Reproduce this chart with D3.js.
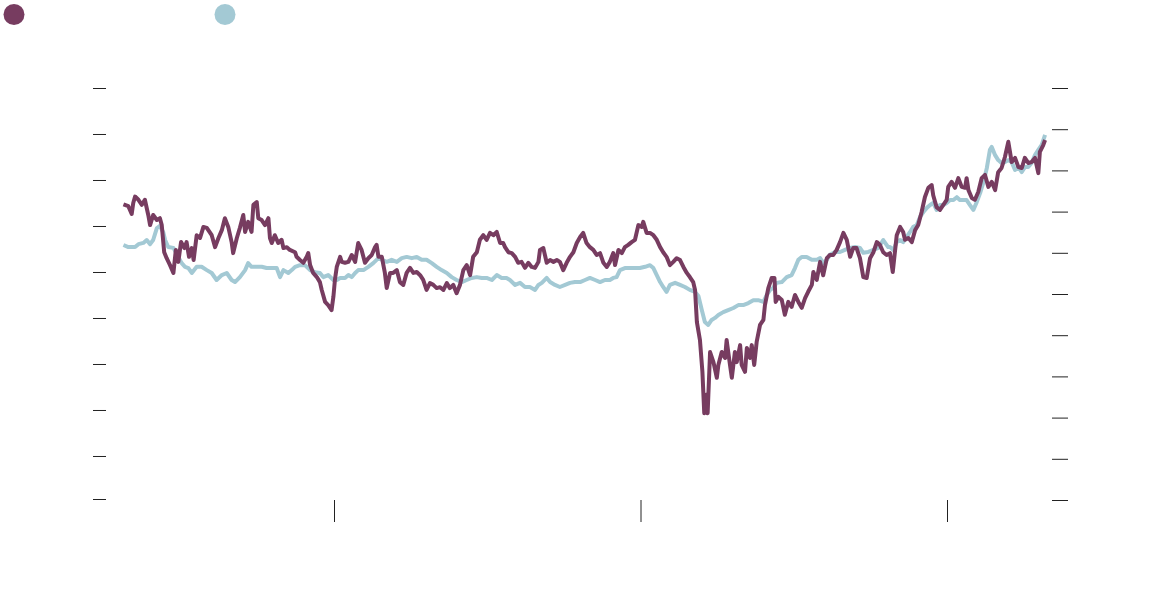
<!DOCTYPE html>
<html>
<head>
<meta charset="utf-8">
<script src="https://cdn.jsdelivr.net/npm/d3@7"></script>
<style>
	body { margin: 0; background: #fff; }
	svg { display: block; }
</style>
</head>
<body>
<svg id="chart" width="1160" height="594"></svg>
<script>
// [decimal year, value on left axis]
const seriesA = [
	[2018.313, 54.7], [2018.329, 54.3], [2018.340, 52.6], [2018.345, 55.0], [2018.351, 56.4],
	[2018.362, 55.7], [2018.373, 54.6], [2018.383, 55.7], [2018.394, 52.4], [2018.400, 50.2],
	[2018.410, 52.4], [2018.422, 51.3], [2018.432, 51.7], [2018.438, 50.2], [2018.446, 44.3],
	[2018.454, 43.0], [2018.465, 41.5], [2018.476, 39.8], [2018.484, 44.8], [2018.492, 42.2],
	[2018.501, 46.5], [2018.512, 45.2], [2018.519, 46.5], [2018.527, 43.3], [2018.536, 45.2],
	[2018.542, 42.6], [2018.552, 48.0], [2018.563, 47.4], [2018.574, 49.8], [2018.585, 49.6],
	[2018.601, 48.0], [2018.612, 45.4], [2018.623, 47.4], [2018.634, 49.1], [2018.644, 51.7],
	[2018.655, 49.8], [2018.666, 46.5], [2018.671, 44.1], [2018.683, 47.4], [2018.693, 49.6],
	[2018.704, 52.4], [2018.710, 48.7], [2018.720, 50.9], [2018.731, 48.7], [2018.737, 54.6],
	[2018.748, 55.2], [2018.753, 51.7], [2018.764, 51.3], [2018.775, 50.2], [2018.786, 51.7],
	[2018.791, 47.4], [2018.797, 46.3], [2018.807, 48.0], [2018.818, 46.3], [2018.829, 47.0],
	[2018.835, 45.2], [2018.846, 45.4], [2018.856, 44.8], [2018.873, 44.3], [2018.878, 43.3],
	[2018.889, 42.6], [2018.900, 42.0], [2018.911, 43.3], [2018.916, 44.1], [2018.922, 41.5],
	[2018.932, 39.8], [2018.944, 38.9], [2018.954, 37.8], [2018.960, 36.1], [2018.971, 33.5],
	[2018.981, 32.8], [2018.992, 31.7], [2018.998, 34.6], [2019.003, 38.3], [2019.009, 41.1],
	[2019.020, 43.3], [2019.025, 42.2], [2019.036, 42.0], [2019.047, 42.2], [2019.058, 43.7],
	[2019.069, 42.2], [2019.079, 46.3], [2019.090, 44.8], [2019.101, 42.0], [2019.112, 43.0],
	[2019.123, 43.7], [2019.134, 45.4], [2019.139, 45.9], [2019.145, 43.3], [2019.156, 43.3],
	[2019.166, 39.8], [2019.172, 36.5], [2019.183, 39.8], [2019.193, 39.8], [2019.205, 40.4],
	[2019.215, 37.8], [2019.226, 37.2], [2019.237, 39.8], [2019.248, 40.9], [2019.259, 39.8],
	[2019.270, 40.0], [2019.281, 39.3], [2019.291, 38.3], [2019.302, 36.1], [2019.313, 37.6],
	[2019.324, 37.2], [2019.335, 36.5], [2019.346, 36.7], [2019.357, 36.1], [2019.368, 37.6],
	[2019.378, 36.5], [2019.389, 37.2], [2019.400, 35.4], [2019.411, 37.2], [2019.422, 40.4],
	[2019.433, 41.5], [2019.444, 39.3], [2019.454, 43.3], [2019.466, 44.3], [2019.476, 47.0],
	[2019.487, 48.0], [2019.498, 47.0], [2019.509, 48.5], [2019.520, 48.0], [2019.531, 48.7],
	[2019.542, 46.3], [2019.552, 46.3], [2019.558, 45.4], [2019.569, 44.3], [2019.580, 44.1],
	[2019.591, 43.3], [2019.601, 42.0], [2019.612, 42.2], [2019.623, 40.9], [2019.634, 42.0],
	[2019.645, 41.1], [2019.656, 40.9], [2019.667, 42.2], [2019.672, 44.8], [2019.683, 45.2],
	[2019.694, 42.0], [2019.705, 42.6], [2019.716, 42.2], [2019.727, 42.6], [2019.737, 42.2],
	[2019.748, 40.4], [2019.759, 42.0], [2019.770, 43.3], [2019.781, 44.3], [2019.792, 46.3],
	[2019.803, 47.6], [2019.813, 48.5], [2019.824, 46.3], [2019.835, 45.4], [2019.846, 44.8],
	[2019.857, 43.7], [2019.868, 44.1], [2019.879, 42.0], [2019.890, 41.1], [2019.900, 42.2],
	[2019.911, 44.1], [2019.917, 41.5], [2019.928, 44.8], [2019.939, 44.1], [2019.949, 45.4],
	[2019.960, 45.9], [2019.971, 46.5], [2019.982, 47.0], [2019.993, 50.2], [2020.004, 49.8],
	[2020.009, 50.9], [2020.020, 48.5], [2020.031, 48.5], [2020.042, 48.0], [2020.053, 47.0],
	[2020.064, 45.4], [2020.074, 44.3], [2020.085, 43.3], [2020.096, 41.5], [2020.107, 42.2],
	[2020.118, 43.0], [2020.129, 42.6], [2020.140, 41.1], [2020.151, 39.8], [2020.161, 38.9],
	[2020.172, 37.8], [2020.178, 36.1], [2020.184, 29.1], [2020.194, 25.2], [2020.202, 18.3],
	[2020.208, 9.3], [2020.214, 13.3], [2020.219, 9.3], [2020.227, 22.6], [2020.238, 20.4],
	[2020.249, 17.0], [2020.254, 19.8], [2020.265, 22.6], [2020.276, 21.3], [2020.281, 25.2],
	[2020.292, 19.8], [2020.298, 17.0], [2020.308, 22.6], [2020.314, 20.4], [2020.325, 24.1],
	[2020.330, 19.8], [2020.341, 18.3], [2020.347, 23.5], [2020.357, 21.3], [2020.363, 24.1],
	[2020.371, 19.8], [2020.379, 24.8], [2020.390, 28.5], [2020.401, 29.6], [2020.406, 32.8],
	[2020.417, 36.5], [2020.428, 38.7], [2020.437, 38.7], [2020.441, 33.5], [2020.450, 34.6],
	[2020.461, 33.9], [2020.471, 30.7], [2020.482, 33.5], [2020.493, 32.4], [2020.504, 35.0],
	[2020.515, 33.5], [2020.526, 32.2], [2020.537, 34.3], [2020.547, 35.7], [2020.559, 37.2],
	[2020.564, 40.0], [2020.575, 38.3], [2020.586, 42.2], [2020.596, 39.3], [2020.608, 43.0],
	[2020.618, 43.7], [2020.629, 43.7], [2020.640, 44.8], [2020.651, 46.5], [2020.662, 48.5],
	[2020.673, 47.0], [2020.684, 43.3], [2020.694, 45.2], [2020.705, 45.2], [2020.716, 43.0],
	[2020.727, 38.9], [2020.738, 38.7], [2020.749, 43.0], [2020.760, 44.3], [2020.771, 46.5],
	[2020.781, 45.9], [2020.792, 44.3], [2020.803, 43.7], [2020.814, 44.1], [2020.823, 40.0],
	[2020.836, 48.0], [2020.847, 49.8], [2020.857, 48.7], [2020.863, 47.0], [2020.874, 47.4],
	[2020.885, 46.5], [2020.896, 49.1], [2020.906, 50.2], [2020.917, 53.0], [2020.928, 56.3],
	[2020.939, 58.3], [2020.950, 58.9], [2020.955, 56.7], [2020.966, 54.1], [2020.977, 53.5],
	[2020.988, 54.6], [2020.999, 55.7], [2021.004, 58.5], [2021.015, 59.6], [2021.026, 58.3],
	[2021.037, 60.4], [2021.048, 58.5], [2021.059, 58.3], [2021.064, 60.4], [2021.070, 57.8],
	[2021.081, 56.1], [2021.091, 55.7], [2021.102, 57.4], [2021.113, 60.4], [2021.124, 61.1],
	[2021.135, 58.5], [2021.146, 59.6], [2021.157, 57.8], [2021.167, 61.7], [2021.178, 62.6],
	[2021.189, 65.0], [2021.200, 68.3], [2021.211, 63.9], [2021.222, 64.8], [2021.233, 62.8],
	[2021.244, 62.6], [2021.254, 64.8], [2021.265, 63.7], [2021.276, 63.9], [2021.287, 64.8],
	[2021.298, 61.5], [2021.303, 66.1], [2021.314, 67.6], [2021.320, 68.7]
];

// [decimal year, value on right axis]
const seriesB = [
	[2018.313, 61.9], [2018.329, 61.4], [2018.340, 61.4], [2018.351, 61.4], [2018.362, 62.1],
	[2018.378, 62.4], [2018.389, 63.1], [2018.400, 62.1], [2018.410, 63.1], [2018.422, 66.0],
	[2018.432, 66.5], [2018.443, 65.0], [2018.449, 63.1], [2018.459, 61.4], [2018.476, 61.2],
	[2018.492, 59.0], [2018.503, 57.5], [2018.514, 56.6], [2018.525, 56.3], [2018.536, 55.1],
	[2018.552, 56.6], [2018.568, 56.6], [2018.585, 55.8], [2018.601, 55.1], [2018.617, 53.4],
	[2018.634, 54.6], [2018.650, 55.1], [2018.666, 53.4], [2018.677, 52.9], [2018.693, 54.1],
	[2018.710, 55.8], [2018.720, 57.5], [2018.731, 56.6], [2018.748, 56.6], [2018.764, 56.6],
	[2018.780, 56.3], [2018.797, 56.3], [2018.813, 56.3], [2018.824, 54.1], [2018.835, 55.8],
	[2018.851, 55.1], [2018.862, 55.8], [2018.873, 56.6], [2018.889, 57.0], [2018.905, 57.0],
	[2018.922, 55.8], [2018.938, 55.3], [2018.954, 55.1], [2018.965, 54.1], [2018.981, 54.6],
	[2018.998, 53.4], [2019.009, 53.4], [2019.020, 53.9], [2019.036, 53.9], [2019.047, 54.6],
	[2019.058, 54.1], [2019.069, 55.1], [2019.079, 55.8], [2019.096, 55.8], [2019.112, 56.6],
	[2019.128, 57.5], [2019.145, 58.7], [2019.156, 58.3], [2019.172, 57.8], [2019.188, 58.3],
	[2019.205, 57.8], [2019.221, 58.7], [2019.237, 59.0], [2019.254, 58.7], [2019.270, 59.0],
	[2019.286, 58.3], [2019.302, 58.3], [2019.319, 57.5], [2019.335, 56.6], [2019.351, 55.8],
	[2019.368, 55.1], [2019.384, 54.1], [2019.400, 53.4], [2019.417, 52.9], [2019.433, 53.4],
	[2019.449, 53.9], [2019.466, 54.1], [2019.482, 53.9], [2019.498, 53.9], [2019.515, 53.4],
	[2019.531, 54.6], [2019.547, 53.9], [2019.563, 53.9], [2019.574, 53.4], [2019.591, 52.2],
	[2019.607, 52.7], [2019.623, 51.7], [2019.639, 51.7], [2019.656, 51.0], [2019.667, 52.2],
	[2019.678, 52.7], [2019.694, 53.9], [2019.705, 52.9], [2019.721, 52.2], [2019.737, 51.7],
	[2019.754, 52.2], [2019.770, 52.7], [2019.786, 52.9], [2019.803, 52.9], [2019.819, 53.4],
	[2019.835, 53.9], [2019.852, 53.4], [2019.868, 52.9], [2019.884, 53.4], [2019.900, 53.4],
	[2019.911, 53.9], [2019.922, 54.1], [2019.933, 55.8], [2019.949, 56.3], [2019.966, 56.3],
	[2019.982, 56.3], [2019.998, 56.3], [2020.015, 56.6], [2020.031, 57.0], [2020.042, 56.3],
	[2020.053, 54.6], [2020.064, 52.9], [2020.074, 51.7], [2020.085, 50.5], [2020.096, 52.2],
	[2020.113, 52.7], [2020.129, 52.2], [2020.145, 51.7], [2020.161, 51.0], [2020.178, 50.5],
	[2020.189, 49.5], [2020.200, 46.1], [2020.210, 43.2], [2020.221, 42.5], [2020.232, 43.7],
	[2020.243, 44.2], [2020.254, 44.9], [2020.270, 45.6], [2020.286, 46.1], [2020.303, 46.6],
	[2020.319, 47.3], [2020.335, 47.3], [2020.352, 47.8], [2020.368, 48.5], [2020.384, 48.5],
	[2020.401, 48.1], [2020.412, 49.8], [2020.423, 51.0], [2020.433, 51.5], [2020.444, 52.7],
	[2020.461, 52.9], [2020.477, 54.1], [2020.493, 54.6], [2020.504, 56.3], [2020.515, 58.3],
	[2020.526, 59.0], [2020.542, 59.0], [2020.559, 58.3], [2020.575, 58.3], [2020.586, 58.7],
	[2020.596, 57.5], [2020.608, 58.3], [2020.618, 59.5], [2020.635, 60.2], [2020.651, 60.2],
	[2020.667, 60.7], [2020.684, 61.2], [2020.700, 61.4], [2020.716, 61.2], [2020.727, 60.0],
	[2020.743, 60.2], [2020.760, 60.7], [2020.776, 61.2], [2020.792, 63.1], [2020.808, 61.4],
	[2020.814, 61.4], [2020.825, 60.7], [2020.836, 62.6], [2020.847, 63.1], [2020.857, 62.6],
	[2020.868, 63.8], [2020.879, 65.0], [2020.890, 66.3], [2020.901, 66.7], [2020.912, 68.7],
	[2020.923, 69.9], [2020.934, 70.9], [2020.945, 71.6], [2020.955, 72.1], [2020.966, 70.4],
	[2020.977, 71.6], [2020.988, 71.6], [2020.999, 72.1], [2021.010, 72.8], [2021.021, 72.8],
	[2021.032, 73.5], [2021.042, 72.8], [2021.053, 72.8], [2021.064, 72.8], [2021.075, 71.6],
	[2021.086, 70.4], [2021.097, 72.3], [2021.108, 74.5], [2021.118, 76.9], [2021.130, 80.6],
	[2021.140, 85.0], [2021.146, 85.7], [2021.157, 83.7], [2021.167, 82.5], [2021.178, 81.8],
	[2021.189, 82.0], [2021.200, 82.5], [2021.211, 82.0], [2021.222, 80.1], [2021.233, 80.8],
	[2021.244, 79.6], [2021.254, 80.8], [2021.265, 80.8], [2021.276, 81.8], [2021.287, 83.7],
	[2021.298, 85.0], [2021.309, 86.2], [2021.320, 88.6]
];

const leftTicks = [-9.35, 0, 10, 20, 30, 40, 50, 60, 70, 80];
const rightTicks = [0, 10, 20, 30, 40, 50, 60, 70, 80, 90, 100];
const yearTicks = [2019, 2020, 2021];

const svg = d3.select("#chart");

let xScale = d3.scaleLinear().domain([2019, 2021]).range([334, 947]);
let yLeft = d3.scaleLinear().domain([-9.35, 80]).range([499, 88]);
let yRight = d3.scaleLinear().domain([0, 100]).range([500, 88]);

function drawAxes() {
	let leftG = svg
		.append("g")
		.attr("transform", "translate(106,0)")
		.call(d3.axisLeft(yLeft).tickValues(leftTicks).tickSize(13).tickFormat(""));

	let rightG = svg
		.append("g")
		.attr("transform", "translate(1052,0)")
		.call(d3.axisRight(yRight).tickValues(rightTicks).tickSize(16).tickFormat(""));

	let bottomG = svg
		.append("g")
		.attr("transform", "translate(0,500)")
		.call(d3.axisBottom(xScale).tickValues(yearTicks).tickSize(22).tickFormat(""));

	[leftG, rightG, bottomG].forEach((g) => {
		g.select(".domain").remove();
		g.selectAll(".tick line").attr("stroke", "#222").attr("stroke-width", 1);
	});
}

function drawLines() {
	let lineLeft = d3
		.line()
		.x((d) => xScale(d[0]))
		.y((d) => yLeft(d[1]));

	let lineRight = d3
		.line()
		.x((d) => xScale(d[0]))
		.y((d) => yRight(d[1]));

	svg.append("path")
		.datum(seriesB)
		.attr("d", lineRight)
		.attr("fill", "none")
		.attr("stroke", "#a3c9d4")
		.attr("stroke-width", 4)
		.attr("stroke-linejoin", "round");

	svg.append("path")
		.datum(seriesA)
		.attr("d", lineLeft)
		.attr("fill", "none")
		.attr("stroke", "#773c60")
		.attr("stroke-width", 4)
		.attr("stroke-linejoin", "round");
}

function drawLegend() {
	let keys = [
		{ x: 14, color: "#773c60" },
		{ x: 225, color: "#a3c9d4" },
	];
	svg.append("g")
		.selectAll("circle")
		.data(keys)
		.join("circle")
		.attr("cx", (d) => d.x)
		.attr("cy", 14.5)
		.attr("r", 10.5)
		.attr("fill", (d) => d.color);
}

drawAxes();
drawLines();
drawLegend();
</script>
</body>
</html>
